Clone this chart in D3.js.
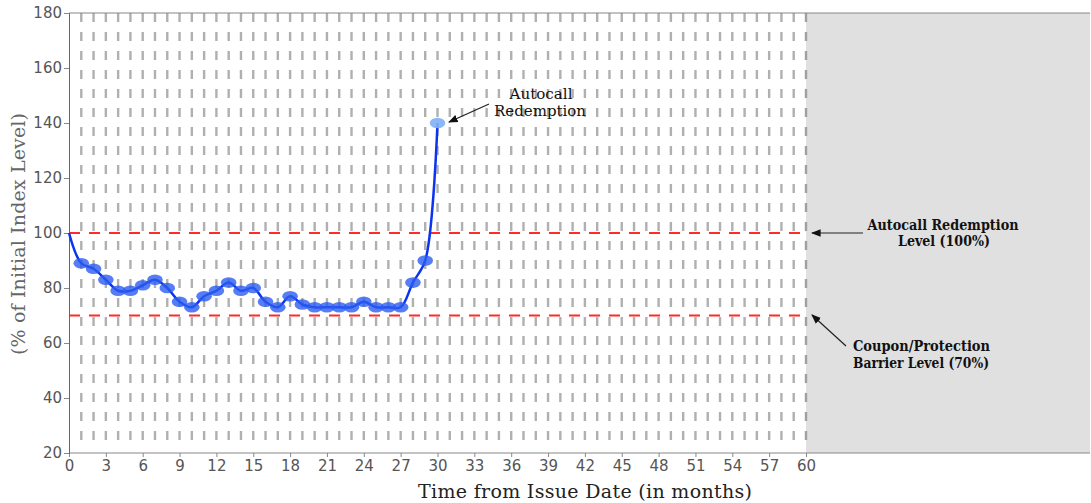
<!DOCTYPE html>
<html><head><meta charset="utf-8">
<script src="https://cdn.jsdelivr.net/npm/d3@7"></script>
<style>body{margin:0;background:#fff}svg{display:block}</style>
</head><body>
<svg id="c" width="1091" height="503"></svg>
<script>
const months = [0,1,2,3,4,5,6,7,8,9,10,11,12,13,14,15,16,17,18,19,20,21,22,23,24,25,26,27,28,29,30];
const levels = [100,89,87,83,79,79,81,83,80,75,73,77,79,82,79,80,75,73,77,74,73,73,73,73,75,73,73,73,82,90,140];
const xTicks = d3.range(0,61,3);
const yTicks = [20,40,60,80,100,120,140,160,180];
const barriers = [100,70];
const gridMonths = d3.range(1,61);

const svg = d3.select("#c");
const L=69, R=1090, T=13, B=453;
const x = d3.scaleLinear().domain([0,60]).range([L,806]);
const y = d3.scaleLinear().domain([20,180]).range([B,T]);

// gray region beyond maturity
svg.append("rect").attr("x",x(60)).attr("y",T).attr("width",R-x(60)).attr("height",B-T).attr("fill","#e0e0e0");

// vertical dashed grid
svg.append("g").selectAll("line").data(gridMonths).join("line")
  .attr("x1",d=>x(d)).attr("x2",d=>x(d)).attr("y1",T).attr("y2",B-5)
  .attr("stroke",d=>d===60?"#a0a0a0":"#b0b0b0").attr("stroke-width",2.4).attr("stroke-dasharray","9,10");

// barrier lines
svg.append("g").selectAll("line").data(barriers).join("line")
  .attr("x1",x(0)).attr("x2",x(60)).attr("y1",d=>y(d)).attr("y2",d=>y(d))
  .attr("stroke","#ff2a2a").attr("stroke-width",2.2).attr("stroke-dasharray","11,9");

// axes
const xa = svg.append("g").attr("transform",`translate(0,${B})`)
  .call(d3.axisBottom(x).tickValues(xTicks).tickSize(4).tickPadding(3));
xa.select(".domain").remove();
svg.append("line").attr("x1",L).attr("x2",R).attr("y1",B).attr("y2",B).attr("stroke","#888").attr("stroke-width",1.2);
svg.append("line").attr("x1",L).attr("x2",R).attr("y1",T).attr("y2",T).attr("stroke","#888").attr("stroke-width",1.2);
const ya = svg.append("g").attr("transform",`translate(${L},0)`)
  .call(d3.axisLeft(y).tickValues(yTicks).tickSize(5).tickPadding(2));
ya.select(".domain").attr("stroke","#666");
[xa,ya].forEach(a=>{a.selectAll(".tick line").attr("stroke","#888");
  a.selectAll("text").attr("fill","#555").attr("font-family","DejaVu Sans").attr("font-size",15);});

// series line
const pts = months.map((m,i)=>({m,v:levels[i]}));
svg.append("path").datum(pts)
  .attr("d",d3.line().x(d=>x(d.m)).y(d=>y(d.v)).curve(d3.curveCatmullRom.alpha(0.5)))
  .attr("fill","none").attr("stroke","#0a34f0").attr("stroke-width",2.5);

// markers
svg.append("g").selectAll("ellipse").data(pts.slice(1)).join("ellipse")
  .attr("cx",d=>x(d.m)).attr("cy",d=>y(d.v)).attr("rx",7.8).attr("ry",5.3)
  .attr("fill",d=>d.m===30?"#7fb0f5":"#2c5cf0").attr("fill-opacity",d=>d.m===30?0.9:0.8);

// axis titles
svg.append("text").attr("x",585).attr("y",498).attr("text-anchor","middle")
  .attr("font-family","DejaVu Serif").attr("font-size",19).attr("fill","#222")
  .attr("textLength",334).text("Time from Issue Date (in months)");
svg.append("text").attr("transform","translate(25,234) rotate(-90)").attr("text-anchor","middle")
  .attr("font-family","DejaVu Serif").attr("font-size",19).attr("fill","#666")
  .attr("textLength",242).text("(% of Initial Index Level)");

// annotations
const defs = svg.append("defs");
defs.append("marker").attr("id","ah").attr("viewBox","0 0 10 10").attr("refX",9).attr("refY",5)
  .attr("markerWidth",8).attr("markerHeight",8).attr("orient","auto")
  .append("path").attr("d","M0,1 L10,5 L0,9 Z").attr("fill","#111");
function arrow(x1,y1,x2,y2){svg.append("line").attr("x1",x1).attr("y1",y1).attr("x2",x2).attr("y2",y2)
  .attr("stroke","#222").attr("stroke-width",1.2).attr("marker-end","url(#ah)");}
arrow(489,104,449,122);
arrow(863,233,812,233);
arrow(846,346,812,315);
function txt(xp,yp,s,anchor,bold,len){svg.append("text").attr("x",xp).attr("y",yp).attr("text-anchor",anchor)
  .attr("font-family","DejaVu Serif").attr("font-size",14).attr("font-weight",bold?"bold":"normal")
  .attr("fill","#111").attr("textLength",len).attr("lengthAdjust","spacingAndGlyphs").text(s);}
txt(541,99,"Autocall","middle",false,63);
txt(540,116,"Redemption","middle",false,92);
txt(943,230,"Autocall Redemption","middle",true,151);
txt(944,246,"Level (100%)","middle",true,92);
txt(853,351,"Coupon/Protection","start",true,137);
txt(853,368,"Barrier Level (70%)","start",true,136);
</script>
</body></html>
